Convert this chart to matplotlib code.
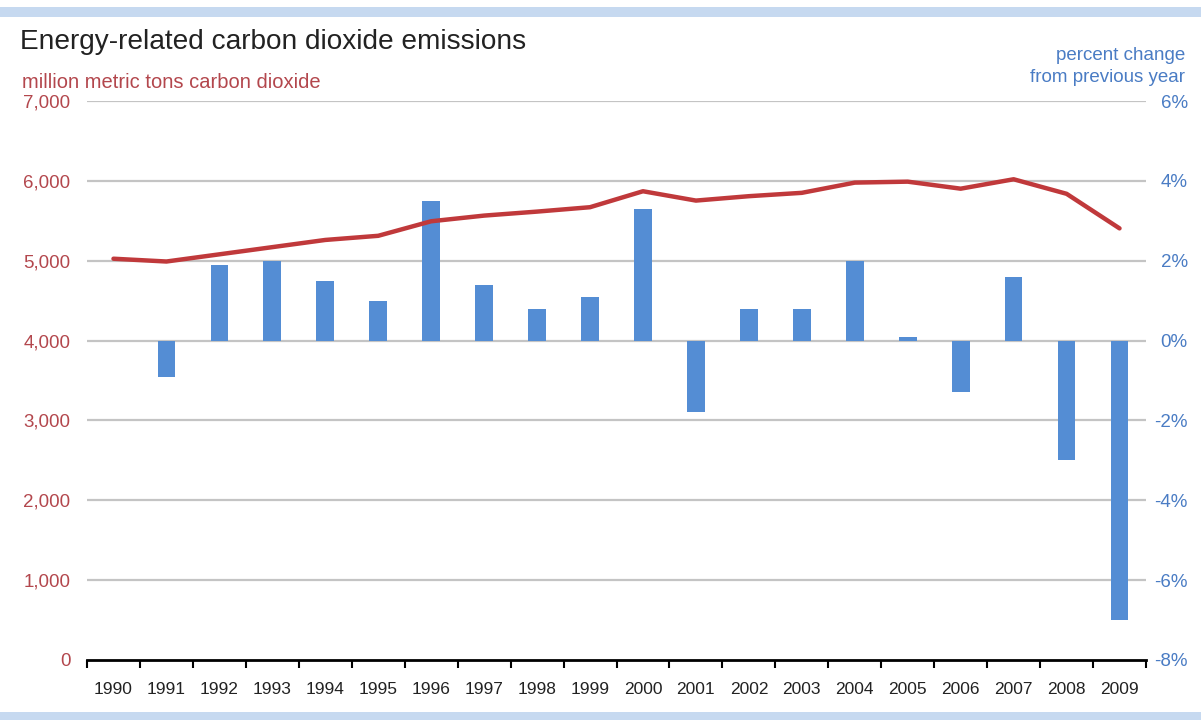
import matplotlib
matplotlib.use("Agg")
import matplotlib.pyplot as plt
import numpy as np

plt.rcParams['font.family'] = ['Liberation Sans', 'DejaVu Sans']

# данные
years = ['1990', '1991', '1992', '1993', '1994', '1995', '1996', '1997', '1998', '1999',
         '2000', '2001', '2002', '2003', '2004', '2005', '2006', '2007', '2008', '2009']
emissions = [5025, 4990, 5080, 5170, 5260, 5312, 5494, 5565, 5615, 5670,
             5870, 5753, 5808, 5850, 5978, 5990, 5902, 6020, 5838, 5405]
pct_change = [np.nan, -0.9, 1.9, 2.0, 1.5, 1.0, 3.5, 1.4, 0.8, 1.1,
              3.3, -1.8, 0.8, 0.8, 2.0, 0.1, -1.3, 1.6, -3.0, -7.0]
left_ticks = [0, 1000, 2000, 3000, 4000, 5000, 6000, 7000]
right_ticks = [-8, -6, -4, -2, 0, 2, 4, 6]

red = '#c0393b'
red_txt = '#b3474d'
blue = '#548dd4'
blue_txt = '#4a7cc4'
band = '#c6d9f0'

fig = plt.figure(figsize=(12.01, 7.2), dpi=100)
fig.patch.set_facecolor('white')

# полосы сверху и снизу
fig.add_artist(plt.Rectangle((0.0, 1 - 17 / 720), 1.0, 10 / 720, transform=fig.transFigure,
                             color=band, lw=0))
fig.add_artist(plt.Rectangle((0.0, 0.0), 1.0, 8 / 720, transform=fig.transFigure,
                             color=band, lw=0))

ax2 = fig.add_axes([87 / 1201, 1 - 660 / 720, (1146 - 87) / 1201, (660 - 101) / 720])
ax = ax2.twinx()

x = np.arange(len(years))

# столбцы (правая ось) - рисуем на ax2, он позади
ax2.bar(x, pct_change, width=0.335, color=blue, zorder=3)
ax2.set_ylim(-8, 6)
ax2.set_xlim(-0.5, len(years) - 0.5)
ax2.set_yticks(right_ticks)
ax2.set_yticklabels([f'{v}%' for v in right_ticks])
ax2.yaxis.tick_right()
ax2.tick_params(axis='y', length=0, pad=30, labelsize=13.5, labelcolor=blue_txt)
for lbl in ax2.get_yticklabels():
    lbl.set_horizontalalignment('right')
for v in right_ticks[1:]:
    ax2.axhline(v, color='#c4c4c4', lw=1.6, zorder=1)

# линия (левая ось)
ax.plot(x, emissions, color=red, lw=3.2, solid_capstyle='round', zorder=5)
ax.set_ylim(0, 7000)
ax.set_yticks(left_ticks)
ax.set_yticklabels([f'{v:,}' for v in left_ticks])
ax.yaxis.tick_left()
ax.tick_params(axis='y', length=0, pad=12, labelsize=13.5, labelcolor=red_txt)
ax.set_zorder(ax2.get_zorder() + 1)
ax.patch.set_visible(False)

# ось X
ax2.set_xticks(np.arange(-0.5, len(years), 1.0))
ax2.set_xticklabels([])
ax2.tick_params(axis='x', length=6, width=1.5, color='black', direction='out')
ax2.set_xticks(x, minor=True)
ax2.set_xticklabels(years, minor=True)
ax2.tick_params(axis='x', which='minor', length=0, pad=16, labelsize=12.5, labelcolor='#222222')
ax.tick_params(axis='x', length=0, labelbottom=False)

for a in (ax, ax2):
    for s in ['top', 'left', 'right']:
        a.spines[s].set_visible(False)
ax.spines['bottom'].set_visible(False)
ax2.spines['bottom'].set_color('black')
ax2.spines['bottom'].set_linewidth(2)
ax2.spines['bottom'].set_position(('data', -8))

# подписи
fig.text(20 / 1201, 1 - 42 / 720, 'Energy-related carbon dioxide emissions',
         fontsize=20.2, color='#222222', va='center', ha='left')
fig.text(22 / 1201, 1 - 83 / 720, 'million metric tons carbon dioxide',
         fontsize=14.5, color=red_txt, va='center', ha='left')
fig.text(1185 / 1201, 1 - 55 / 720, 'percent change', fontsize=13.5, color=blue_txt,
         va='center', ha='right')
fig.text(1185 / 1201, 1 - 77 / 720, 'from previous year', fontsize=13.5, color=blue_txt,
         va='center', ha='right')

plt.savefig('out.png', dpi=100, facecolor='white')
